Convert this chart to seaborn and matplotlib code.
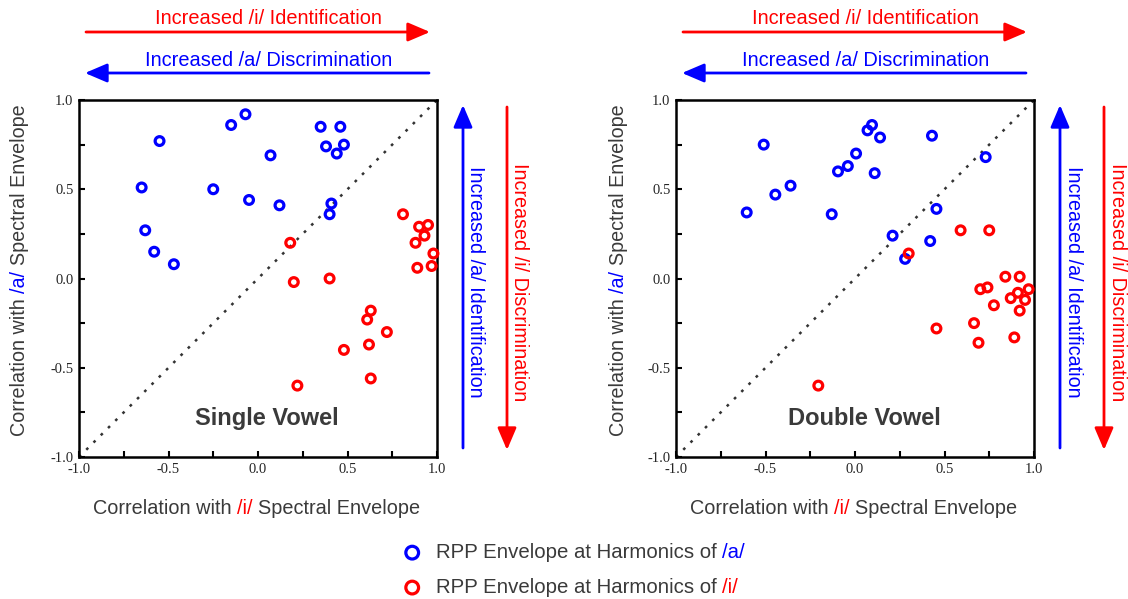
import pandas as pd
import seaborn as sns
import matplotlib.pyplot as plt
from matplotlib.text import Annotation

# Single vowel: RPP envelope at harmonics of /a/
single_a_x = [-0.55, -0.65, -0.63, -0.58, -0.47, -0.25, -0.15, -0.07, -0.05, 0.07,
              0.12, 0.35, 0.46, 0.38, 0.48, 0.44, 0.41, 0.40]
single_a_y = [0.77, 0.51, 0.27, 0.15, 0.08, 0.50, 0.86, 0.92, 0.44, 0.69,
              0.41, 0.85, 0.85, 0.74, 0.75, 0.70, 0.42, 0.36]
# Single vowel: RPP envelope at harmonics of /i/
single_i_x = [0.18, 0.20, 0.40, 0.81, 0.90, 0.95, 0.93, 0.88, 0.98, 0.89,
              0.97, 0.63, 0.61, 0.72, 0.62, 0.48, 0.63, 0.22]
single_i_y = [0.20, -0.02, 0.00, 0.36, 0.29, 0.30, 0.24, 0.20, 0.14, 0.06,
              0.07, -0.18, -0.23, -0.30, -0.37, -0.40, -0.56, -0.60]
# Double vowel: harmonics of /a/
double_a_x = [-0.51, -0.605, -0.445, -0.36, -0.13, -0.095, -0.04, 0.006, 0.07, 0.095,
              0.14, 0.11, 0.43, 0.73, 0.455, 0.21, 0.42, 0.28]
double_a_y = [0.75, 0.37, 0.47, 0.52, 0.36, 0.60, 0.63, 0.70, 0.83, 0.86,
              0.79, 0.59, 0.80, 0.68, 0.39, 0.24, 0.21, 0.11]
# Double vowel: harmonics of /i/
double_i_x = [0.30, 0.59, 0.75, 0.84, 0.92, 0.70, 0.74, 0.91, 0.97, 0.87,
              0.95, 0.776, 0.92, 0.665, 0.455, 0.89, 0.69, -0.205]
double_i_y = [0.14, 0.27, 0.27, 0.01, 0.01, -0.06, -0.05, -0.08, -0.06, -0.11,
              -0.12, -0.15, -0.18, -0.25, -0.28, -0.33, -0.36, -0.60]

ticks = [-1.0, -0.5, 0.0, 0.5, 1.0]
tick_labels = ['-1.0', '-0.5', '0.0', '0.5', '1.0']
minor_ticks = [-0.75, -0.25, 0.25, 0.75]

BLUE = '#0000ff'
RED = '#ff0000'
GREY = '#3a3a3a'
W, H = 1128, 599


def fx(px):
    return px / W


def fy(py):
    return 1 - py / H


sns.set_style("white")
plt.rcParams['font.family'] = ['Liberation Sans', 'DejaVu Sans']

fig = plt.figure(figsize=(W / 100, H / 100), dpi=100)

panels = [
    ('Single Vowel', single_a_x, single_a_y, single_i_x, single_i_y),
    ('Double Vowel', double_a_x, double_a_y, double_i_x, double_i_y),
]
ylabel_x = [20, 619]
arrow_kw = dict(arrowstyle='-|>,head_length=0.75,head_width=0.32', lw=2,
                mutation_scale=18, shrinkA=0, shrinkB=0)

handles = []
for k, (title, ax_, ay_, ix_, iy_) in enumerate(panels):
    dx = 597 * k
    ax = fig.add_axes([fx(79 + dx), fy(457), 358 / W, 357 / H])
    df_a = pd.DataFrame({'x': ax_, 'y': ay_})
    df_i = pd.DataFrame({'x': ix_, 'y': iy_})

    # reference diagonal
    ax.plot([-1, 1], [-1, 1], color='#333333', lw=1.8, linestyle=(0, (1.1, 3.0)), zorder=1)

    sns.scatterplot(data=df_a, x='x', y='y', ax=ax, s=40, color=BLUE, facecolor='none',
                    edgecolor=BLUE, linewidth=2.3, clip_on=False, zorder=3)
    h_a = ax.collections[-1]
    sns.scatterplot(data=df_i, x='x', y='y', ax=ax, s=40, color=RED, facecolor='none',
                    edgecolor=RED, linewidth=2.3, clip_on=False, zorder=3)
    h_i = ax.collections[-1]
    if k == 0:
        handles = [h_a, h_i]

    ax.set_xlim(-1, 1)
    ax.set_ylim(-1, 1)
    ax.set_xlabel('')
    ax.set_ylabel('')
    ax.set_xticks(ticks)
    ax.set_yticks(ticks)
    ax.set_xticks(minor_ticks, minor=True)
    ax.set_yticks(minor_ticks, minor=True)
    ax.set_xticklabels(tick_labels, fontfamily='Liberation Serif', fontsize=10.5)
    ax.set_yticklabels(tick_labels, fontfamily='Liberation Serif', fontsize=10.5)
    ax.tick_params(which='both', direction='in', length=4, width=1.5, color='black',
                   bottom=True, left=True, top=False, right=False, pad=4)
    for sp in ax.spines.values():
        sp.set_visible(True)
        sp.set_color('black')
        sp.set_linewidth(1.8)

    ax.text(0.05, -0.785, title, ha='center', va='center', fontsize=17,
            fontweight='bold', color=GREY)

    # top arrows
    ax.annotate('', xy=(fx(430 + dx), fy(32)), xytext=(fx(86 + dx), fy(32)),
                xycoords='figure fraction', annotation_clip=False,
                arrowprops=dict(color=RED, **arrow_kw))
    fig.text(fx(268 + dx), fy(19), 'Increased /i/ Identification', color=RED,
             fontsize=14.4, ha='center', va='center')
    ax.annotate('', xy=(fx(85 + dx), fy(73)), xytext=(fx(429 + dx), fy(73)),
                xycoords='figure fraction', annotation_clip=False,
                arrowprops=dict(color=BLUE, **arrow_kw))
    fig.text(fx(269 + dx), fy(60), 'Increased /a/ Discrimination', color=BLUE,
             fontsize=14.4, ha='center', va='center')

    # right side arrows
    ax.annotate('', xy=(fx(463 + dx), fy(105)), xytext=(fx(463 + dx), fy(448)),
                xycoords='figure fraction', annotation_clip=False,
                arrowprops=dict(color=BLUE, **arrow_kw))
    fig.text(fx(476 + dx), fy(282), 'Increased /a/ Identification', color=BLUE,
             fontsize=14.2, ha='center', va='center', rotation=-90)
    ax.annotate('', xy=(fx(507 + dx), fy(450)), xytext=(fx(507 + dx), fy(107)),
                xycoords='figure fraction', annotation_clip=False,
                arrowprops=dict(color=RED, **arrow_kw))
    fig.text(fx(520 + dx), fy(282), 'Increased /i/ Discrimination', color=RED,
             fontsize=14.2, ha='center', va='center', rotation=-90)

    # x label with coloured /i/
    t = fig.text(fx(93 + dx), fy(508), 'Correlation with', color=GREY, fontsize=14.3,
                 ha='left', va='center')
    for s, c in [('/i/', RED), ('Spectral Envelope', GREY)]:
        t = ax.annotate(s, xy=(1, 0), xycoords=t, xytext=(4, 0), textcoords='offset points',
                        ha='left', va='bottom', color=c, fontsize=14.3, annotation_clip=False)
    # y label with coloured /a/
    t = fig.text(fx(ylabel_x[k]), fy(436), 'Correlation with', color=GREY, fontsize=14.2,
                 ha='center', va='bottom', rotation=90)
    for s, c in [('/a/', BLUE), ('Spectral Envelope', GREY)]:
        t = ax.annotate(s, xy=(0, 1), xycoords=t, xytext=(0, 4), textcoords='offset points',
                        ha='left', va='bottom', color=c, fontsize=14.2, rotation=90,
                        annotation_clip=False)

leg = fig.legend(handles=handles, labels=['RPP Envelope at Harmonics of'] * 2,
                 loc='upper left', bbox_to_anchor=(fx(402), fy(543)), frameon=False,
                 fontsize=14.7, markerscale=1.45, handlelength=1.0, handletextpad=0.65,
                 labelspacing=0.78, borderpad=0, borderaxespad=0, labelcolor=GREY)
for txt, s, c in zip(leg.get_texts(), ['/a/', '/i/'], [BLUE, RED]):
    suffix = Annotation(s, xy=(1, 0), xycoords=txt, xytext=(4, 0), textcoords='offset points',
                        ha='left', va='bottom', color=c, fontsize=14.7)
    suffix.set_zorder(10)
    fig.add_artist(suffix)

fig.savefig('out.png', dpi=100)
